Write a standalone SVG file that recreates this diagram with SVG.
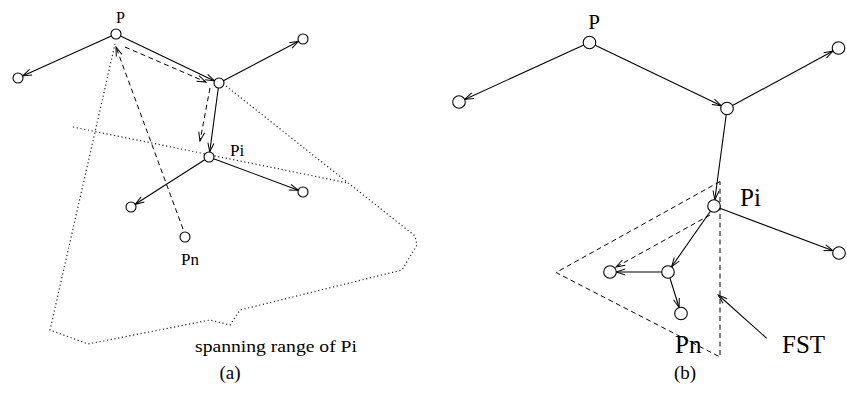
<svg xmlns="http://www.w3.org/2000/svg" width="847" height="395" viewBox="0 0 847 395">
<style>
.n{fill:#fff;stroke:#000;stroke-width:1.1}
.e{stroke:#000;stroke-width:1.1;fill:none}
.d{stroke:#000;stroke-width:1;fill:none;stroke-dasharray:5 3.5}
.o{stroke:#222;stroke-width:1.2;fill:none;stroke-dasharray:1.2 2.6}
text{font-family:'Liberation Serif','Times New Roman','DejaVu Serif',serif;fill:#000}
</style>
<defs>
<marker id="ah" markerUnits="userSpaceOnUse" markerWidth="12" markerHeight="8" refX="9" refY="3" orient="auto" overflow="visible">
<path d="M0,0 L9,3 L0,6" fill="none" stroke="#000" stroke-width="1"/>
</marker>
</defs>
<g id="range-a">
<polyline class="o" points="73,127 348,183"/>
<polyline class="o" points="226,86 415,236 417,245 402,270 240,310 230,325 210,320 88,344 50,330 115,44"/>
<polyline class="d" points="720,181.5 556,272.5 720,357 720,181.5"/>
</g>
<g id="connectors">
<line class="e" x1="111.4" y1="36.1" x2="22.6" y2="75.9" marker-end="url(#ah)"/>
<line class="e" x1="120.5" y1="36.1" x2="214.5" y2="80.9" marker-end="url(#ah)"/>
<line class="e" x1="223.4" y1="80.7" x2="298.6" y2="41.3" marker-end="url(#ah)"/>
<line class="e" x1="218.3" y1="88" x2="209.7" y2="152" marker-end="url(#ah)"/>
<line class="e" x1="204.8" y1="159.7" x2="135.2" y2="204.3" marker-end="url(#ah)"/>
<line class="e" x1="213.7" y1="158.7" x2="298.3" y2="190.3" marker-end="url(#ah)"/>
<line class="d" x1="125" y1="47" x2="206" y2="82" marker-end="url(#ah)"/>
<line class="d" x1="210" y1="88" x2="200" y2="141" marker-end="url(#ah)"/>
<line class="d" x1="183" y1="229" x2="116" y2="47" marker-end="url(#ah)"/>
<line class="e" x1="583.8" y1="45.1" x2="464.7" y2="99.4" marker-end="url(#ah)"/>
<line class="e" x1="595.2" y1="45.2" x2="721.3" y2="105.8" marker-end="url(#ah)"/>
<line class="e" x1="732.5" y1="105.5" x2="833" y2="51" marker-end="url(#ah)"/>
<line class="e" x1="726.2" y1="114.7" x2="714.8" y2="199.8" marker-end="url(#ah)"/>
<line class="e" x1="719.9" y1="208.2" x2="833.1" y2="250.8" marker-end="url(#ah)"/>
<line class="e" x1="710.4" y1="211.2" x2="671.6" y2="266.8" marker-end="url(#ah)"/>
<line class="e" x1="661.7" y1="272" x2="616.3" y2="272" marker-end="url(#ah)"/>
<line class="e" x1="669.9" y1="278" x2="679.1" y2="307.5" marker-end="url(#ah)"/>
<line class="d" x1="710" y1="215" x2="616" y2="267" marker-end="url(#ah)"/>
<line class="e" x1="766.7" y1="338.3" x2="718.3" y2="295" marker-end="url(#ah)"/>
</g>
<g id="a-P"><circle class="n" cx="116" cy="34" r="5"/><text font-family="'Liberation Serif', serif" x="120.5" y="23" font-size="16" text-anchor="middle">P</text></g>
<g id="a-L"><circle class="n" cx="18" cy="78" r="5"/></g>
<g id="a-M"><circle class="n" cx="219" cy="83" r="5"/></g>
<g id="a-TR"><circle class="n" cx="303" cy="39" r="5"/></g>
<g id="a-Pi"><circle class="n" cx="209" cy="157" r="5"/><text font-family="'Liberation Serif', serif" x="230" y="156" font-size="17">Pi</text></g>
<g id="a-BL"><circle class="n" cx="131" cy="207" r="5"/></g>
<g id="a-BR"><circle class="n" cx="303" cy="192" r="5"/></g>
<g id="a-Pn"><circle class="n" cx="185" cy="237" r="5"/><text font-family="'Liberation Serif', serif" x="181" y="265" font-size="17">Pn</text></g>
<text font-family="'Liberation Serif', serif" x="195" y="352" font-size="17.5" textLength="162" lengthAdjust="spacingAndGlyphs">spanning range of Pi</text>
<text font-family="'Liberation Serif', serif" x="230" y="379" font-size="19" text-anchor="middle">(a)</text>
<g id="b-P"><circle class="n" cx="589.5" cy="42.5" r="6.3"/><text font-family="'Liberation Serif', serif" x="594" y="28.5" font-size="21" text-anchor="middle">P</text></g>
<g id="b-L"><circle class="n" cx="459" cy="102" r="6.3"/></g>
<g id="b-M"><circle class="n" cx="727" cy="108.5" r="6.3"/></g>
<g id="b-TR"><circle class="n" cx="838.5" cy="48" r="6.3"/></g>
<g id="b-Pi"><circle class="n" cx="714" cy="206" r="6.3"/><text font-family="'Liberation Serif', serif" x="740" y="205.5" font-size="25">Pi</text></g>
<g id="b-R"><circle class="n" cx="839" cy="253" r="6.3"/></g>
<g id="b-CM"><circle class="n" cx="668" cy="272" r="6.3"/></g>
<g id="b-CL"><circle class="n" cx="610" cy="272" r="6.3"/></g>
<g id="b-CB"><circle class="n" cx="681" cy="313.5" r="6.3"/></g>
<text font-family="'Liberation Serif', serif" x="675" y="353" font-size="25">Pn</text>
<text font-family="'Liberation Serif', serif" x="782" y="353" font-size="25">FST</text>
<text font-family="'Liberation Serif', serif" x="685" y="379" font-size="19" text-anchor="middle">(b)</text>
</svg>
